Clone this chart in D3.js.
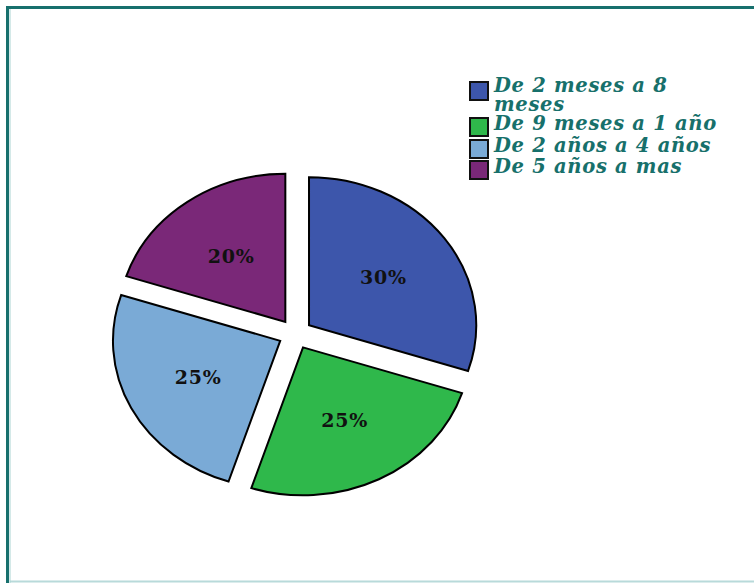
<!DOCTYPE html>
<html>
<head>
<meta charset="utf-8">
<script src="https://cdn.jsdelivr.net/npm/d3@7"></script>
<style>
  html, body { margin: 0; padding: 0; background: #fff; }
  svg { display: block; }
</style>
</head>
<body>
<svg id="chart" width="754" height="583"></svg>
<script>
// Age groups and their share of the total
const categories = ["De 2 meses a 8 meses", "De 9 meses a 1 año", "De 2 años a 4 años", "De 5 años a mas"];
const legendLines = [["De 2 meses a 8", "meses"], ["De 9 meses a 1 año"], ["De 2 años a 4 años"], ["De 5 años a mas"]];
const values = [30, 25, 25, 20];
const colors = ["#3d56ab", "#2fb84b", "#7aaad6", "#7a2878"];

const svg = d3.select("#chart");
const W = 754, H = 583;

// Frame: dark teal on the left and top, pale line along the bottom
svg.append("path")
  .attr("d", `M7.5,${H} L7.5,7.5 L${W},7.5`)
  .attr("fill", "none").attr("stroke", "#17706d").attr("stroke-width", 3);
svg.append("line")
  .attr("x1", 10).attr("x2", W).attr("y1", 581.5).attr("y2", 581.5)
  .attr("stroke", "#b8dada").attr("stroke-width", 2);
svg.append("line")
  .attr("x1", 10).attr("x2", 10).attr("y1", 9).attr("y2", H)
  .attr("stroke", "#a9d3d2").attr("stroke-width", 1);

// Exploded pie, slightly wider than tall
const cx = 295.3, cy = 334;
const radius = 148, explode = 15, sx = 1.13;
const pie = d3.pie().sort(null).value(d => d);
const arc = d3.arc().innerRadius(0).outerRadius(radius);
const arcs = pie(values);
const mid = d => (d.startAngle + d.endAngle) / 2;

const g = svg.append("g").attr("transform", `translate(${cx},${cy}) scale(${sx},1)`);

const slice = g.selectAll("g.slice").data(arcs).join("g")
  .attr("class", "slice")
  .attr("transform", d => `translate(${Math.sin(mid(d)) * explode},${-Math.cos(mid(d)) * explode})`);

slice.append("path")
  .attr("d", arc)
  .attr("fill", (d, i) => colors[i])
  .attr("stroke", "#000")
  .attr("stroke-width", 2)
  .attr("stroke-linejoin", "miter")
  .attr("vector-effect", "non-scaling-stroke");

// Percentage labels
const labelR = radius * 0.55;
svg.selectAll("text.pct").data(arcs).join("text")
  .attr("class", "pct")
  .attr("x", d => cx + Math.sin(mid(d)) * (labelR + explode) * sx)
  .attr("y", d => cy - Math.cos(mid(d)) * (labelR + explode))
  .attr("dy", "0.35em")
  .attr("text-anchor", "middle")
  .attr("font-family", "DejaVu Serif, serif")
  .attr("font-weight", "bold")
  .attr("font-size", 19)
  .attr("letter-spacing", 0.8)
  .attr("fill", "#111")
  .text(d => d.data + "%");

// Legend: swatch plus a (possibly wrapped) label per entry
const legend = svg.append("g").attr("class", "legend");
const rowY = [82, 118, 140, 161];
legendLines.forEach((lines, i) => {
  legend.append("rect")
    .attr("x", 470).attr("y", rowY[i])
    .attr("width", 18).attr("height", 18)
    .attr("fill", colors[i])
    .attr("stroke", "#111").attr("stroke-width", 2);
  const label = legend.append("text")
    .attr("y", rowY[i] + (lines.length > 1 ? 10 : 12))
    .attr("font-family", "DejaVu Serif, serif")
    .attr("font-style", "italic")
    .attr("font-weight", "bold")
    .attr("font-size", 19.5)
    .attr("letter-spacing", 0.7)
    .attr("fill", "#17706b");
  lines.forEach((t, j) => {
    label.append("tspan")
      .attr("x", 494)
      .attr("dy", j === 0 ? 0 : 19)
      .text(t);
  });
});
</script>
</body>
</html>
